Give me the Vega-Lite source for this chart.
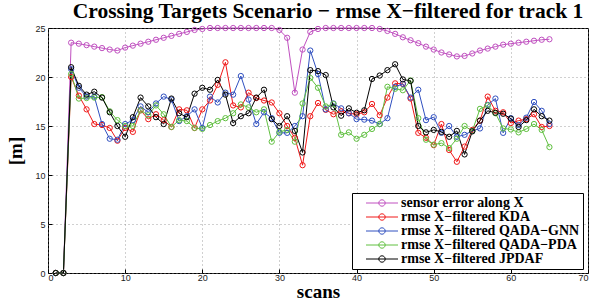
{
  "$schema": "https://vega.github.io/schema/vega-lite/v6.json",
  "width": 540,
  "height": 245,
  "autosize": {"type": "none"},
  "padding": {"left": 48, "top": 28, "right": 6, "bottom": 30},
  "background": "white",
  "title": {"text": "Crossing Targets Scenario − rmse X−filtered for track 1", "font": "Liberation Serif", "fontSize": 21.5, "fontWeight": "bold", "color": "black", "offset": 1, "anchor": "middle", "dx": 10},
  "config": {
    "view": {"stroke": "black", "strokeWidth": 1},
    "axis": {"domain": false, "grid": true, "gridColor": "#888888", "gridDash": [1, 3], "gridWidth": 0.8, "tickColor": "black", "tickSize": -4, "labelFont": "Liberation Sans", "labelFontSize": 9, "labelColor": "#222222", "titleFont": "Liberation Serif", "titleFontSize": 19, "titleFontWeight": "bold", "titleColor": "black"},
    "legend": {"orient": "none", "legendX": 304, "legendY": 165, "direction": "vertical", "strokeColor": "black", "strokeWidth": 1, "fillColor": "white", "padding": 3, "labelFont": "Liberation Serif", "labelFontWeight": "bold", "labelFontSize": 14, "labelColor": "black", "labelLimit": 400, "symbolSize": 64, "symbolStrokeWidth": 1, "rowPadding": -2, "symbolOffset": 20, "labelOffset": 12}
  },
  "data": {"values": [
    {"scan": 1, "sensor": 0, "kda": 0, "gnn": 0, "pda": 0, "jpdaf": 0},
    {"scan": 2, "sensor": 0, "kda": 0, "gnn": 0, "pda": 0, "jpdaf": 0},
    {"scan": 3, "sensor": 23.5, "kda": 20.0, "gnn": 20.8, "pda": 20.3, "jpdaf": 21.0},
    {"scan": 4, "sensor": 23.4, "kda": 18.1, "gnn": 18.9, "pda": 17.8, "jpdaf": 19.1},
    {"scan": 5, "sensor": 23.25, "kda": 16.7, "gnn": 18.0, "pda": 17.85, "jpdaf": 18.2},
    {"scan": 6, "sensor": 23.1, "kda": 15.2, "gnn": 18.0, "pda": 17.9, "jpdaf": 18.5},
    {"scan": 7, "sensor": 22.95, "kda": 15.1, "gnn": 15.2, "pda": 17.95, "jpdaf": 17.9},
    {"scan": 8, "sensor": 22.8, "kda": 14.8, "gnn": 13.7, "pda": 16.5, "jpdaf": 16.4},
    {"scan": 9, "sensor": 22.7, "kda": 13.5, "gnn": 13.6, "pda": 15.6, "jpdaf": 15.0},
    {"scan": 10, "sensor": 23.0, "kda": 14.8, "gnn": 15.2, "pda": 15.0, "jpdaf": 13.9},
    {"scan": 11, "sensor": 23.2, "kda": 14.4, "gnn": 15.6, "pda": 15.0, "jpdaf": 15.9},
    {"scan": 12, "sensor": 23.4, "kda": 16.6, "gnn": 17.0, "pda": 16.6, "jpdaf": 17.9},
    {"scan": 13, "sensor": 23.6, "kda": 15.7, "gnn": 16.4, "pda": 16.1, "jpdaf": 17.0},
    {"scan": 14, "sensor": 23.8, "kda": 16.2, "gnn": 17.3, "pda": 17.1, "jpdaf": 15.9},
    {"scan": 15, "sensor": 24.0, "kda": 15.6, "gnn": 18.0, "pda": 16.2, "jpdaf": 15.2},
    {"scan": 16, "sensor": 24.2, "kda": 14.9, "gnn": 17.7, "pda": 14.9, "jpdaf": 17.8},
    {"scan": 17, "sensor": 24.4, "kda": 16.7, "gnn": 15.5, "pda": 15.6, "jpdaf": 16.3},
    {"scan": 18, "sensor": 24.6, "kda": 16.6, "gnn": 16.0, "pda": 15.5, "jpdaf": 15.9},
    {"scan": 19, "sensor": 24.8, "kda": 14.8, "gnn": 16.7, "pda": 14.8, "jpdaf": 18.3},
    {"scan": 20, "sensor": 24.9, "kda": 16.7, "gnn": 14.8, "pda": 14.7, "jpdaf": 18.9},
    {"scan": 21, "sensor": 25.0, "kda": 17.6, "gnn": 18.0, "pda": 15.1, "jpdaf": 18.7},
    {"scan": 22, "sensor": 25.0, "kda": 19.2, "gnn": 17.4, "pda": 15.5, "jpdaf": 19.7},
    {"scan": 23, "sensor": 25.0, "kda": 21.5, "gnn": 18.4, "pda": 15.8, "jpdaf": 18.2},
    {"scan": 24, "sensor": 25.0, "kda": 17.1, "gnn": 18.2, "pda": 16.3, "jpdaf": 15.3},
    {"scan": 25, "sensor": 25.0, "kda": 16.9, "gnn": 20.1, "pda": 17.2, "jpdaf": 16.0},
    {"scan": 26, "sensor": 25.0, "kda": 18.4, "gnn": 17.7, "pda": 16.9, "jpdaf": 16.3},
    {"scan": 27, "sensor": 25.0, "kda": 17.85, "gnn": 15.2, "pda": 16.4, "jpdaf": 17.9},
    {"scan": 28, "sensor": 25.0, "kda": 17.6, "gnn": 16.4, "pda": 16.7, "jpdaf": 18.7},
    {"scan": 29, "sensor": 25.0, "kda": 17.4, "gnn": 15.8, "pda": 13.4, "jpdaf": 15.7},
    {"scan": 30, "sensor": 24.8, "kda": 16.3, "gnn": 14.3, "pda": 14.4, "jpdaf": 15.0},
    {"scan": 31, "sensor": 24.0, "kda": 15.0, "gnn": 14.3, "pda": 14.6, "jpdaf": 16.0},
    {"scan": 32, "sensor": 18.4, "kda": 13.8, "gnn": 15.0, "pda": 13.4, "jpdaf": 14.5},
    {"scan": 33, "sensor": 22.8, "kda": 11.0, "gnn": 16.0, "pda": 17.3, "jpdaf": 12.3},
    {"scan": 34, "sensor": 24.6, "kda": 16.0, "gnn": 22.7, "pda": 19.9, "jpdaf": 20.7},
    {"scan": 35, "sensor": 24.9, "kda": 17.35, "gnn": 20.3, "pda": 18.9, "jpdaf": 20.6},
    {"scan": 36, "sensor": 25.0, "kda": 16.65, "gnn": 16.7, "pda": 17.0, "jpdaf": 20.2},
    {"scan": 37, "sensor": 25.0, "kda": 16.2, "gnn": 17.3, "pda": 17.25, "jpdaf": 16.9},
    {"scan": 38, "sensor": 25.0, "kda": 16.5, "gnn": 16.8, "pda": 14.1, "jpdaf": 16.05},
    {"scan": 39, "sensor": 25.0, "kda": 16.3, "gnn": 16.3, "pda": 14.35, "jpdaf": 16.8},
    {"scan": 40, "sensor": 25.0, "kda": 16.2, "gnn": 15.7, "pda": 13.7, "jpdaf": 16.35},
    {"scan": 41, "sensor": 25.0, "kda": 16.4, "gnn": 15.65, "pda": 14.1, "jpdaf": 16.6},
    {"scan": 42, "sensor": 25.0, "kda": 17.25, "gnn": 15.55, "pda": 14.7, "jpdaf": 19.8},
    {"scan": 43, "sensor": 24.9, "kda": 16.1, "gnn": 15.2, "pda": 15.2, "jpdaf": 20.15},
    {"scan": 44, "sensor": 24.7, "kda": 17.9, "gnn": 15.8, "pda": 19.0, "jpdaf": 20.7},
    {"scan": 45, "sensor": 24.4, "kda": 19.35, "gnn": 19.0, "pda": 18.8, "jpdaf": 21.3},
    {"scan": 46, "sensor": 24.05, "kda": 19.3, "gnn": 19.3, "pda": 18.65, "jpdaf": 19.75},
    {"scan": 47, "sensor": 23.75, "kda": 17.8, "gnn": 17.9, "pda": 19.65, "jpdaf": 19.6},
    {"scan": 48, "sensor": 23.45, "kda": 14.3, "gnn": 18.7, "pda": 15.8, "jpdaf": 15.0},
    {"scan": 49, "sensor": 23.1, "kda": 13.8, "gnn": 15.6, "pda": 13.6, "jpdaf": 14.35},
    {"scan": 50, "sensor": 22.8, "kda": 13.05, "gnn": 15.9, "pda": 13.1, "jpdaf": 14.6},
    {"scan": 51, "sensor": 22.5, "kda": 15.2, "gnn": 14.3, "pda": 13.25, "jpdaf": 14.4},
    {"scan": 52, "sensor": 22.3, "kda": 12.55, "gnn": 15.0, "pda": 12.75, "jpdaf": 13.9},
    {"scan": 53, "sensor": 22.1, "kda": 11.35, "gnn": 13.9, "pda": 13.7, "jpdaf": 14.5},
    {"scan": 54, "sensor": 22.15, "kda": 12.9, "gnn": 14.1, "pda": 15.0, "jpdaf": 12.1},
    {"scan": 55, "sensor": 22.4, "kda": 14.6, "gnn": 14.5, "pda": 14.5, "jpdaf": 14.45},
    {"scan": 56, "sensor": 22.7, "kda": 15.55, "gnn": 14.75, "pda": 16.75, "jpdaf": 15.55},
    {"scan": 57, "sensor": 22.9, "kda": 18.0, "gnn": 17.15, "pda": 17.1, "jpdaf": 16.55},
    {"scan": 58, "sensor": 23.1, "kda": 16.55, "gnn": 17.8, "pda": 16.3, "jpdaf": 16.35},
    {"scan": 59, "sensor": 23.3, "kda": 16.4, "gnn": 14.3, "pda": 14.75, "jpdaf": 16.25},
    {"scan": 60, "sensor": 23.4, "kda": 15.3, "gnn": 15.8, "pda": 14.65, "jpdaf": 15.75},
    {"scan": 61, "sensor": 23.5, "kda": 15.55, "gnn": 15.1, "pda": 14.35, "jpdaf": 14.9},
    {"scan": 62, "sensor": 23.6, "kda": 15.7, "gnn": 15.85, "pda": 14.7, "jpdaf": 15.6},
    {"scan": 63, "sensor": 23.7, "kda": 16.2, "gnn": 17.45, "pda": 15.2, "jpdaf": 16.7},
    {"scan": 64, "sensor": 23.8, "kda": 14.9, "gnn": 16.55, "pda": 14.6, "jpdaf": 16.0},
    {"scan": 65, "sensor": 23.85, "kda": 15.0, "gnn": 15.2, "pda": 12.85, "jpdaf": 15.55}
  ]},
  "encoding": {
    "x": {"field": "scan", "type": "quantitative", "scale": {"domain": [0, 70], "nice": false}, "axis": {"title": "scans", "values": [0, 10, 20, 30, 40, 50, 60, 70], "labelPadding": 4, "titlePadding": 0}},
    "y": {"field": "value", "type": "quantitative", "scale": {"domain": [0, 25], "nice": false}, "axis": {"title": "[m]", "values": [0, 5, 10, 15, 20, 25], "labelPadding": 7, "titlePadding": 9}}
  },
  "layer": [
    {
      "transform": [{"fold": ["sensor", "kda", "gnn", "pda", "jpdaf"], "as": ["series", "value"]}],
      "mark": {"type": "line", "strokeWidth": 1},
      "encoding": {
        "color": {"field": "series", "type": "nominal", "scale": {"domain": ["sensor", "kda", "gnn", "pda", "jpdaf"], "range": ["#c050c0", "#f01818", "#3050c0", "#60c040", "#000000"]},
          "legend": {"title": null, "symbolType": "M-4,0L4,0M-0.8,0A0.8,0.8 0 1 1 0.8,0A0.8,0.8 0 1 1 -0.8,0", "labelExpr": "datum.value == 'sensor' ? 'sensor error along X' : datum.value == 'kda' ? 'rmse X−filtered KDA' : datum.value == 'gnn' ? 'rmse X−filtered QADA−GNN' : datum.value == 'pda' ? 'rmse X−filtered QADA−PDA' : 'rmse X−filtered JPDAF'"}}
      }
    },
    {
      "transform": [{"fold": ["sensor", "kda", "gnn", "pda", "jpdaf"], "as": ["series", "value"]}],
      "mark": {"type": "point", "filled": false, "size": 28, "strokeWidth": 1, "opacity": 1},
      "encoding": {
        "color": {"field": "series", "type": "nominal"}
      }
    },
    {
      "data": {"values": [{"note": "FA in gate=0.2"}]},
      "mark": {"type": "text", "font": "Liberation Serif", "fontWeight": "bold", "fontSize": 14.5, "color": "black", "align": "center", "baseline": "middle"},
      "encoding": {
        "x": {"datum": 30.1},
        "y": {"datum": 3.6},
        "text": {"field": "note", "type": "nominal"}
      }
    }
  ]
}
